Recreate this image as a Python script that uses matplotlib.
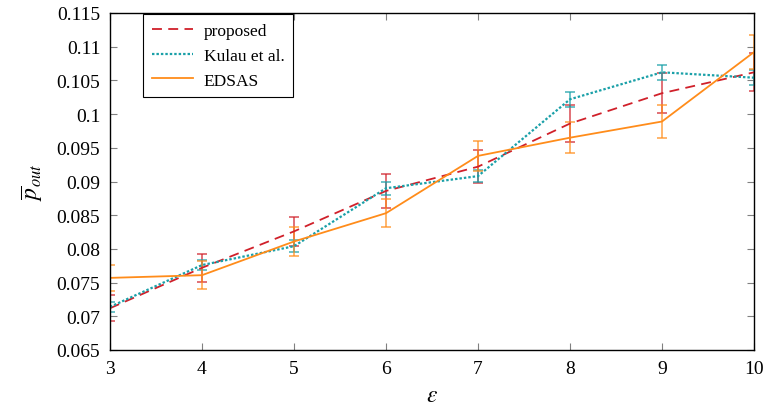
import matplotlib
matplotlib.use("Agg")
import matplotlib.pyplot as plt
from matplotlib.ticker import FuncFormatter

eps = [3, 4, 5, 6, 7, 8, 9, 10]
proposed = [0.0712, 0.0772, 0.0826, 0.0886, 0.0922, 0.0986, 0.1031, 0.1062]
proposed_err = [0.0019, 0.0021, 0.0021, 0.0025, 0.0024, 0.0027, 0.0030, 0.0028]
kulau = [0.0714, 0.0776, 0.0804, 0.0890, 0.0908, 0.1022, 0.1062, 0.1054]
kulau_err = [0.0007, 0.0008, 0.0009, 0.0010, 0.0009, 0.0011, 0.0011, 0.0011]
edsas = [0.0757, 0.0761, 0.0811, 0.0853, 0.0938, 0.0965, 0.0989, 0.1092]
edsas_err = [0.0019, 0.0021, 0.0021, 0.0021, 0.0022, 0.0023, 0.0024, 0.0025]
yticks = [0.065, 0.07, 0.075, 0.08, 0.085, 0.09, 0.095, 0.1, 0.105, 0.11, 0.115]

plt.rcParams['font.family'] = ['Liberation Serif', 'DejaVu Serif']
plt.rcParams['mathtext.fontset'] = 'stix'

fig = plt.figure(figsize=(7.66, 4.14), dpi=100)
ax = fig.add_axes([110/766, 1-351/414, 644/766, 337/414])

red = '#d0202a'
teal = '#1aa0a8'
orange = '#ff8c1a'

series = [
    (proposed, proposed_err, red, (0, (5.5, 3.5)), 'proposed'),
    (kulau, kulau_err, teal, (0, (1.1, 0.9)), 'Kulau et al.'),
    (edsas, edsas_err, orange, '-', 'EDSAS'),
]
for vals, errs, col, ls, lab in series:
    ax.errorbar(eps, vals, yerr=errs, fmt='none', ecolor=col, elinewidth=1.2,
                capsize=3.6, capthick=1.2, alpha=0.75)
for vals, errs, col, ls, lab in series:
    ax.plot(eps, vals, color=col, linestyle=ls, linewidth=1.6 if lab == 'Kulau et al.' else 1.3,
            label=lab)

ax.set_xlim(3, 10)
ax.set_ylim(0.065, 0.115)
ax.set_xticks(eps)
ax.set_yticks(yticks)
ax.yaxis.set_major_formatter(FuncFormatter(lambda v, p: ('%.3f' % v).rstrip('0').rstrip('.')))
ax.tick_params(direction='in', top=True, right=True, color='#808080', length=5,
               labelsize=14, pad=7)
for s in ax.spines.values():
    s.set_linewidth(1.0)

ax.set_xlabel(r'$\varepsilon$', fontsize=17, labelpad=6)
ax.set_ylabel(r'$\overline{p}_{out}$', fontsize=17, labelpad=8)

leg = ax.legend(loc='upper left', bbox_to_anchor=(0.051, 0.997), borderaxespad=0.0,
                fontsize=12.5, fancybox=False, edgecolor='black', framealpha=1,
                handlelength=2.4, handletextpad=0.6, borderpad=0.5, labelspacing=0.5)
leg.get_frame().set_linewidth(0.8)

fig.savefig('out.png', dpi=100)
